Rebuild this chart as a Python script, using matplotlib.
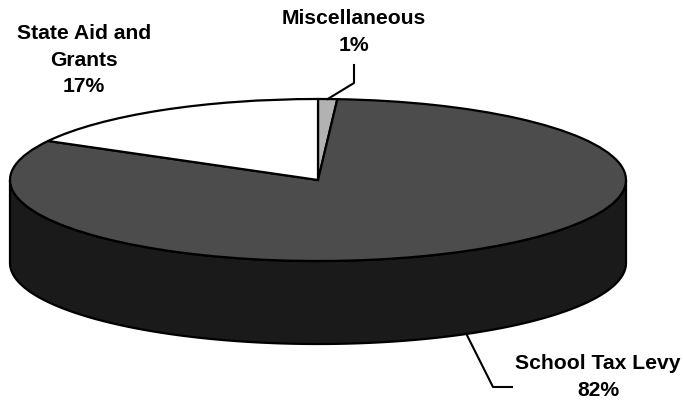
import numpy as np
import matplotlib.pyplot as plt
from matplotlib.patches import Polygon

# revenue shares, drawn clockwise from 12 o'clock
labels = ['Miscellaneous', 'School Tax Levy', 'State Aid and\nGrants']
shares = [1, 82, 17]
top_colors = ['#b2b2b2', '#4c4c4c', '#ffffff']
side_colors = ['#7a7a7a', '#1a1a1a', '#d0d0d0']

W, H = 684, 403
# ellipse of the top face and thickness of the disc, in pixels
CX, CY, RX, RY, DEPTH = 318, 180, 308, 81, 83

fig = plt.figure(figsize=(W / 100, H / 100), dpi=100)
ax = fig.add_axes([0, 0, 1, 1])
wedges, _ = ax.pie(shares, startangle=90, counterclock=False, colors=top_colors,
                   wedgeprops=dict(edgecolor='black', linewidth=1.6, zorder=2))
ax.set_aspect('auto')
ax.set_xlim(-CX / RX, (W - CX) / RX)
ax.set_ylim(-(H - CY) / RY, CY / RY)
ax.set_axis_off()

# side wall of the disc: only the front half is visible
d = DEPTH / RY
for w, c in zip(wedges, side_colors):
    t = np.radians(np.linspace(w.theta1, w.theta2, 600))
    t = t[np.sin(t) <= 0]
    if len(t) == 0:
        continue
    x, y = np.cos(t), np.sin(t)
    verts = np.concatenate([np.column_stack([x, y]),
                            np.column_stack([x[::-1], y[::-1] - d])])
    ax.add_patch(Polygon(verts, closed=True, fc=c, ec='black', lw=1.6, zorder=1))

# overlay in pixel units for labels and leader lines
ov = fig.add_axes([0, 0, 1, 1])
ov.set_xlim(0, W)
ov.set_ylim(H, 0)
ov.set_axis_off()
ov.patch.set_alpha(0)


def edge_point(w):
    mid = np.radians((w.theta1 + w.theta2) / 2)
    px = CX + RX * np.cos(mid)
    py = CY - RY * np.sin(mid)
    if np.sin(mid) < 0:
        py += DEPTH
    return px, py


txt = dict(ha='center', va='center', fontsize=15.2, fontweight='bold',
           family='Liberation Sans', linespacing=1.5, color='black')

# Miscellaneous
sx, sy = edge_point(wedges[0])
ov.plot([sx, 354, 354], [sy, 83, 65], color='black', lw=1.5)
ov.text(354, 32, f'{labels[0]}\n{shares[0]}%', **txt)

# School Tax Levy
sx, sy = edge_point(wedges[1])
ov.plot([sx, 493, 512], [sy, 387, 387], color='black', lw=1.5)
ov.text(598, 377, f'{labels[1]}\n{shares[1]}%', **txt)

# State Aid and Grants
ov.text(84, 60, f'{labels[2]}\n{shares[2]}%', **txt)

fig.savefig('out.png', dpi=100)
